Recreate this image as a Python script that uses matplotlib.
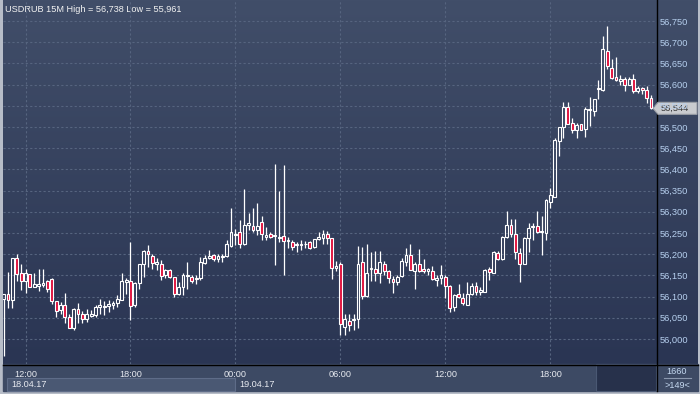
import numpy as np
import pandas as pd
import matplotlib
matplotlib.use('Agg')
import matplotlib.pyplot as plt
from matplotlib.patches import Rectangle, Polygon
from matplotlib.ticker import FuncFormatter
from matplotlib.colors import LinearSegmentedColormap

plt.rcParams['font.family'] = ['Liberation Sans', 'DejaVu Sans']

# USDRUB 15 minute bars, 18.04.17 10:45 .. 19.04.17 23:45
times = pd.date_range('2017-04-18 10:45', periods=149, freq='15min')

opens = [56.095, 56.105, 56.093, 56.190, 56.155, 56.137, 56.153, 56.123, 56.126, 56.128,
         56.137, 56.141, 56.089, 56.068, 56.080, 56.051, 56.025, 56.070, 56.060, 56.048,
         56.054, 56.056, 56.076, 56.076, 56.078, 56.080, 56.084, 56.093, 56.135, 56.137,
         56.080, 56.133, 56.178, 56.208, 56.196, 56.178, 56.178, 56.151, 56.163, 56.147,
         56.105, 56.122, 56.148, 56.147, 56.141, 56.144, 56.180, 56.192, 56.198, 56.188,
         56.194, 56.196, 56.220, 56.245, 56.253, 56.225, 56.269, 56.267, 56.257, 56.277,
         56.241, 56.247, 56.243, 56.237, 56.243, 56.231, 56.228, 56.222, 56.222, 56.223,
         56.228, 56.218, 56.235, 56.239, 56.247, 56.237, 56.168, 56.176, 56.029, 56.042,
         56.044, 56.046, 56.182, 56.101, 56.164, 56.164, 56.156, 56.178, 56.160, 56.142,
         56.135, 56.148, 56.181, 56.197, 56.160, 56.176, 56.164, 56.160, 56.160, 56.140,
         56.144, 56.147, 56.125, 56.076, 56.106, 56.096, 56.081, 56.107, 56.125, 56.111,
         56.110, 56.165, 56.155, 56.202, 56.188, 56.240, 56.269, 56.248, 56.203, 56.178,
         56.237, 56.263, 56.266, 56.253, 56.251, 56.323, 56.336, 56.467, 56.499, 56.546,
         56.510, 56.494, 56.506, 56.496, 56.540, 56.538, 56.589, 56.587, 56.680, 56.640,
         56.618, 56.609, 56.612, 56.600, 56.614, 56.585, 56.593, 56.588, 56.569]

highs = [56.107, 56.157, 56.192, 56.200, 56.177, 56.165, 56.153, 56.155, 56.165, 56.165,
         56.139, 56.145, 56.089, 56.088, 56.109, 56.059, 56.072, 56.084, 56.067, 56.070,
         56.068, 56.080, 56.094, 56.090, 56.092, 56.090, 56.104, 56.155, 56.145, 56.229,
         56.135, 56.178, 56.210, 56.222, 56.200, 56.192, 56.186, 56.164, 56.164, 56.147,
         56.135, 56.156, 56.181, 56.152, 56.151, 56.194, 56.198, 56.210, 56.200, 56.200,
         56.200, 56.233, 56.308, 56.259, 56.281, 56.354, 56.296, 56.308, 56.320, 56.290,
         56.265, 56.253, 56.412, 56.349, 56.410, 56.241, 56.233, 56.228, 56.233, 56.231,
         56.231, 56.236, 56.253, 56.257, 56.255, 56.239, 56.184, 56.181, 56.060, 56.060,
         56.060, 56.219, 56.217, 56.225, 56.205, 56.207, 56.207, 56.184, 56.162, 56.148,
         56.152, 56.191, 56.215, 56.223, 56.181, 56.213, 56.188, 56.168, 56.172, 56.150,
         56.175, 56.150, 56.127, 56.107, 56.129, 56.109, 56.135, 56.131, 56.135, 56.122,
         56.166, 56.169, 56.208, 56.208, 56.243, 56.302, 56.284, 56.284, 56.214, 56.240,
         56.273, 56.273, 56.302, 56.290, 56.331, 56.355, 56.473, 56.500, 56.559, 56.559,
         56.522, 56.510, 56.508, 56.546, 56.571, 56.567, 56.610, 56.714, 56.738, 56.661,
         56.664, 56.622, 56.617, 56.617, 56.624, 56.596, 56.595, 56.596, 56.575]

lows = [55.961, 56.074, 56.074, 56.137, 56.115, 56.109, 56.122, 56.123, 56.114, 56.122,
        56.110, 56.082, 56.051, 56.060, 56.037, 56.025, 56.021, 56.037, 56.037, 56.041,
        56.051, 56.051, 56.060, 56.056, 56.063, 56.070, 56.076, 56.093, 56.107, 56.044,
        56.076, 56.119, 56.147, 56.170, 56.166, 56.163, 56.139, 56.145, 56.144, 56.100,
        56.103, 56.103, 56.119, 56.131, 56.129, 56.139, 56.177, 56.188, 56.185, 56.182,
        56.182, 56.194, 56.218, 56.222, 56.214, 56.222, 56.257, 56.253, 56.245, 56.233,
        56.233, 56.237, 56.174, 56.228, 56.150, 56.214, 56.210, 56.206, 56.210, 56.214,
        56.212, 56.214, 56.233, 56.225, 56.223, 56.142, 56.160, 56.010, 56.010, 56.018,
        56.022, 56.026, 56.095, 56.099, 56.136, 56.136, 56.132, 56.152, 56.132, 56.109,
        56.127, 56.147, 56.172, 56.162, 56.117, 56.158, 56.155, 56.152, 56.140, 56.125,
        56.129, 56.096, 56.064, 56.066, 56.096, 56.080, 56.080, 56.103, 56.103, 56.103,
        56.110, 56.139, 56.155, 56.186, 56.186, 56.237, 56.241, 56.188, 56.135, 56.178,
        56.206, 56.233, 56.251, 56.198, 56.233, 56.310, 56.336, 56.431, 56.473, 56.506,
        56.486, 56.473, 56.492, 56.477, 56.502, 56.525, 56.565, 56.585, 56.636, 56.613,
        56.609, 56.600, 56.585, 56.598, 56.579, 56.580, 56.577, 56.557, 56.543]

closes = [56.105, 56.092, 56.190, 56.153, 56.137, 56.155, 56.123, 56.130, 56.130, 56.133,
          56.119, 56.090, 56.066, 56.080, 56.051, 56.025, 56.070, 56.060, 56.046, 56.060,
          56.058, 56.076, 56.080, 56.078, 56.082, 56.085, 56.094, 56.137, 56.139, 56.078,
          56.131, 56.176, 56.207, 56.200, 56.180, 56.182, 56.149, 56.163, 56.147, 56.105,
          56.122, 56.152, 56.150, 56.137, 56.144, 56.181, 56.192, 56.196, 56.188, 56.196,
          56.196, 56.224, 56.253, 56.248, 56.225, 56.269, 56.273, 56.257, 56.266, 56.247,
          56.245, 56.241, 56.245, 56.241, 56.231, 56.233, 56.218, 56.223, 56.225, 56.225,
          56.215, 56.235, 56.241, 56.247, 56.239, 56.168, 56.173, 56.036, 56.046, 56.034,
          56.046, 56.178, 56.101, 56.156, 56.168, 56.156, 56.182, 56.160, 56.144, 56.134,
          56.147, 56.185, 56.197, 56.162, 56.176, 56.160, 56.160, 56.164, 56.142, 56.144,
          56.150, 56.124, 56.074, 56.103, 56.098, 56.084, 56.107, 56.125, 56.111, 56.115,
          56.163, 56.157, 56.204, 56.188, 56.240, 56.270, 56.247, 56.204, 56.177, 56.237,
          56.262, 56.267, 56.253, 56.255, 56.327, 56.339, 56.469, 56.500, 56.546, 56.508,
          56.494, 56.504, 56.494, 56.542, 56.542, 56.567, 56.591, 56.683, 56.643, 56.616,
          56.610, 56.612, 56.599, 56.612, 56.585, 56.591, 56.588, 56.569, 56.544]

price_ticks = [56.000, 56.050, 56.100, 56.150, 56.200, 56.250, 56.300, 56.350,
               56.400, 56.450, 56.500, 56.550, 56.600, 56.650, 56.700, 56.750]
title = 'USDRUB 15M High = 56,738 Low = 55,961'
date_labels = ['18.04.17', '19.04.17']
last_price = 56.544
bars_total = '1660'
bars_shown = '>149<'

W, H = 700, 394
PLOT_R, PLOT_B = 656, 364
ylo, yhi = 55.941, 56.7995

fig = plt.figure(figsize=(W / 100, H / 100), dpi=100)

# background layer in pixel coords
bg = fig.add_axes([0, 0, 1, 1])
bg.axis('off')
bg.add_patch(Rectangle((0, 0), W, H, color='#b7bdc8'))
grad = np.linspace(0, 1, 256).reshape(-1, 1)
cmap = LinearSegmentedColormap.from_list('bg', ['#414e69', '#2a3553'])
bg.imshow(grad, cmap=cmap, extent=(3, 698, PLOT_B, 0), aspect='auto', zorder=1)
bg.add_patch(Rectangle((3, PLOT_B), 695, 27, color='#3d4a64', zorder=2))
bg.add_patch(Rectangle((7, 378), 228, 13, fc='#4a5873', ec='#5e6c88', lw=0.8, zorder=3))
bg.add_patch(Rectangle((596, PLOT_B), 60, 27, fc='#27314b', ec='#4a5873', lw=0.8, zorder=3))
bg.plot([PLOT_R + 0.5] * 2, [0, 391], color='black', lw=1.0, zorder=4)
bg.plot([3, 698], [PLOT_B + 0.5] * 2, color='black', lw=1.0, zorder=4)
bg.plot([664, 691], [378, 378], color='#8a97ad', lw=0.8, zorder=4)
bg.set_xlim(0, W)
bg.set_ylim(H, 0)

bg.text(5, 9, title, color='#f2f2f2', fontsize=6.6, va='center', zorder=5)
bg.text(11, 384.5, date_labels[0], color='#e6e9ef', fontsize=6.6, va='center', zorder=5)
bg.text(239, 384.5, date_labels[1], color='#e6e9ef', fontsize=6.6, va='center', zorder=5)
bg.text(677, 371.5, bars_total, color='#c4d8f0', fontsize=6.6, ha='center', va='center', zorder=5)
bg.text(677, 385, bars_shown, color='#c4d8f0', fontsize=6.6, ha='center', va='center', zorder=5)

# candle chart
ax = fig.add_axes([3 / W, (H - PLOT_B) / H, (PLOT_R - 3) / W, PLOT_B / H])
ax.patch.set_visible(False)
for s in ax.spines.values():
    s.set_visible(False)
ax.set_xlim(-0.15, len(times) + 0.15)
ax.set_ylim(ylo, yhi)

red = '#e0103c'
for i in range(len(times)):
    o, h, l, c = opens[i], highs[i], lows[i], closes[i]
    lo, hi = min(o, c), max(o, c)
    if hi - lo < 0.0015:
        hi = lo + 0.0015
    ax.vlines(i, hi, h, color='white', lw=0.9, zorder=3)
    ax.vlines(i, l, lo, color='white', lw=0.9, zorder=3)
    fc = red if c < o else 'none'
    ax.add_patch(Rectangle((i - 0.32, lo), 0.64, hi - lo, fc=fc, ec='white', lw=0.8, zorder=4))

ax.set_yticks(price_ticks)
ax.yaxis.tick_right()
ax.yaxis.set_major_formatter(FuncFormatter(lambda v, p: f'{v:.3f}'.replace('.', ',')))
ax.tick_params(axis='y', length=0, pad=2.5, labelsize=6.7, labelcolor='#b6cfee')

tick_idx = [i for i, t in enumerate(times) if t.minute == 0 and t.hour % 6 == 0]
ax.set_xticks(tick_idx)
ax.set_xticklabels([times[i].strftime('%H:%M') for i in tick_idx])
ax.tick_params(axis='x', length=0, pad=4, labelsize=6.6, labelcolor='#e6e9ef')

ax.grid(True, color='#56647f', linestyle=(0, (2, 2)), linewidth=0.8)
ax.set_axisbelow(True)

# last price marker on the price scale
yc = PLOT_B * (yhi - last_price) / (yhi - ylo)
bg.add_patch(Polygon([(653, yc), (658, yc - 6), (697, yc - 6), (697, yc + 6), (658, yc + 6)],
                     closed=True, fc='#c9cbcf', ec='#9a9ea6', lw=0.8, zorder=6))
bg.text(661, yc, f'{last_price:.3f}'.replace('.', ','), color='#333333', fontsize=6.7,
        va='center', zorder=7)

fig.savefig('out.png', dpi=100)
